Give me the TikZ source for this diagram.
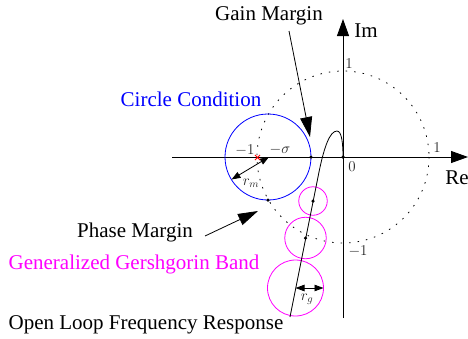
\RequirePackage{fix-cm}
\documentclass[tikz,border=0pt]{standalone}
\usepackage{fontspec}
\setmainfont{Liberation Serif}
\usetikzlibrary{arrows.meta}
\definecolor{pureblue}{RGB}{0,0,255}
\definecolor{puremag}{RGB}{255,0,255}
\definecolor{purered}{RGB}{255,0,0}
\begin{document}
\begin{tikzpicture}[x=1pt,y=-1pt,
  big/.style={font=\fontsize{21}{24}\selectfont, inner sep=0pt},
  num/.style={font=\fontsize{15}{18}\selectfont, inner sep=0pt, text=black!85},
  axis/.style={line width=0.9pt, -{Triangle[length=17pt,width=12pt]}},
  pointer/.style={line width=0.8pt, -{Triangle[length=20pt,width=12pt]}},
  radius arrow/.style={line width=0.8pt, {Triangle[length=9pt,width=6.5pt]}-{Triangle[length=9pt,width=6.5pt]}},
  dot/.style={circle, fill=black, inner sep=0pt, minimum size=3.5pt},
  unitc/.style={line width=0.8pt, dash pattern=on 1.5pt off 7pt},
  gband/.style={draw=puremag, line width=0.8pt, circle, inner sep=0pt}]
\useasboundingbox (0,0) rectangle (468,338);
% coordinates
\coordinate (O) at (343,157);
\coordinate (xl) at (172,157);
\coordinate (xr) at (468,157);
\coordinate (yb) at (343,318);
\coordinate (yt) at (343,19);
\coordinate (sig) at (269,157);
\coordinate (gm) at (311,157);
\coordinate (pm) at (268,200);
\coordinate (rmend) at (231.5,179.5);
\coordinate (c1) at (313,201);
\coordinate (c2) at (305.5,238);
\coordinate (c3) at (295.5,288);
\coordinate (rgend) at (323.5,288);
\coordinate (cstart) at (290,317);
\coordinate (m1) at (257.5,157.5);
% unit circle
\draw[unitc] (O) circle[radius=86];
% axes
\draw[axis] (xl) -- (xr);
\draw[axis] (yb) -- (yt);
% circle condition
\draw[pureblue, line width=0.8pt] (268,157) circle[radius=43];
% gershgorin band circles
\node[gband, minimum size=28.5pt] (g1) at (c1) {};
\node[gband, minimum size=41.5pt] (g2) at (c2) {};
\node[gband, minimum size=56pt] (g3) at (c3) {};
% open loop curve
\draw[line width=0.8pt] (cstart) -- (318,177) .. controls (324,146) and (330,131) .. (337,131) .. controls (342,131) and (343,145) .. (O);
% dots
\node[dot] (d0) at (O) {};
\node[dot] (dg) at (gm) {};
\node[dot] (dp) at (pm) {};
\node[dot] (dc1) at (c1) {};
\node[dot] (dc2) at (c2) {};
% radius arrows
\draw[radius arrow] (rmend) -- (sig);
\draw[radius arrow] (c3) -- (rgend);
% -1 point (red cross)
\draw[purered, line width=0.9pt] ([shift={(-2.6,-2.6)}]m1) -- ([shift={(2.6,2.6)}]m1)
  ([shift={(-2.6,2.6)}]m1) -- ([shift={(2.6,-2.6)}]m1);
% labels
\node[big] (gainlbl) at (269,16) {Gain Margin};
\node[big] (imlbl) at (366,31) {Im};
\node[big] (relbl) at (457,178) {Re};
\node[big, text=pureblue] (cclbl) at (191,99) {Circle Condition};
\node[big] (pmlbl) at (135,232) {Phase Margin};
\node[big, text=puremag] (gglbl) at (134,264) {Generalized Gershgorin Band};
\node[big] (ollbl) at (146,325) {Open Loop Frequency Response};
\node[num] (l0) at (352,167) {$0$};
\node[num] (l1t) at (349,64) {$1$};
\node[num] (l1r) at (437,148) {$1$};
\node[num] (lm1b) at (358,251) {$-1$};
\node[num] (lm1) at (245,150) {$-1$};
\node[num] (lsig) at (280,150) {$-\sigma$};
\node[num] (lrm) at (251,183) {$r_m$};
\node[num] (lrg) at (307,299) {$r_g$};
% pointers
\coordinate (gmtip) at (310,137);
\coordinate (pmtip) at (258,211);
\draw[pointer] (289,31) -- (gmtip);
\draw[pointer] (205,236) -- (pmtip);
\end{tikzpicture}
\end{document}
